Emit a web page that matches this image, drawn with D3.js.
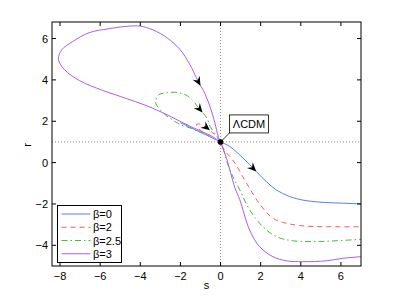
<!DOCTYPE html>
<html>
<head>
<meta charset="utf-8">
<script src="https://cdn.jsdelivr.net/npm/d3@7"></script>
<style>
  body { margin: 0; background: #fff; }
  text { font-family: "Liberation Sans", Arial, sans-serif; font-size: 11px; fill: #000; }
</style>
</head>
<body>
<svg id="chart" width="399" height="300"></svg>
<script>
const X_TICKS = [-8, -6, -4, -2, 0, 2, 4, 6];
const Y_TICKS = [-4, -2, 0, 2, 4, 6];

const LABELS = ["β=0", "β=2", "β=2.5", "β=3"];

// trajectories in the (s, r) plane
const S_B0 = [-2.0, -1.0, -0.4, 0, 0.46, 1.12, 1.78, 2.28, 2.78, 3.44, 4.26, 5.26, 6.08, 7.0];
const R_B0 = [1.93, 1.47, 1.19, 1, 0.78, 0.22, -0.43, -0.92, -1.32, -1.64, -1.84, -1.93, -1.96, -2.0];

const S_B2 = [-0.5, -0.85, -1.12, -1.2, -1.0, -0.78, -0.53, -0.25, 0, 0.13, 0.71, 1.29, 1.95, 2.61, 3.27, 4.1, 5.26, 7.0];
const R_B2 = [1.25, 1.45, 1.68, 1.84, 1.86, 1.72, 1.56, 1.3, 1, 0.7, -0.02, -0.99, -2.0, -2.69, -2.93, -3.06, -3.1, -3.1];

const S_B25 = [-0.8, -1.51, -2.02, -2.41, -2.85, -3.17, -3.24, -3.07, -2.75, -2.25, -1.76, -1.42, -1.09, -0.9, -0.68, -0.52, -0.28, 0, 0.46, 0.96, 1.45, 2.11, 2.78, 3.6, 4.59, 5.75, 7.0];
const R_B25 = [1.38, 1.67, 1.85, 2.07, 2.4, 2.75, 2.98, 3.29, 3.37, 3.40, 3.29, 3.04, 2.64, 2.42, 2.16, 1.75, 1.4, 1, -0.35, -1.32, -2.29, -3.10, -3.58, -3.78, -3.82, -3.78, -3.71];

const S_B3 = [-0.1, -0.43, -1.5, -3.4, -5.0, -5.9, -7.04, -7.78, -8.08, -7.9, -7.39, -6.56, -5.6, -4.56, -4.0, -3.37, -2.66, -2.02, -1.55, -1.2, -1.0, -0.86, -0.53, -0.28, -0.12, 0, 0.3, 0.71, 0.96, 1.45, 1.95, 2.61, 3.27, 4.1, 5.26, 6.08, 7.0];
const R_B3 = [1.05, 1.27, 1.75, 2.64, 3.2, 3.5, 3.97, 4.5, 5.0, 5.47, 5.84, 6.28, 6.47, 6.6, 6.6, 6.42, 6.03, 5.47, 4.78, 4.1, 3.72, 3.5, 2.72, 1.91, 1.27, 1, 0.2, -1.2, -1.8, -3.26, -4.07, -4.55, -4.75, -4.79, -4.75, -4.63, -4.55];

// index of the point where each arrow head sits
const ARROW_AT = [6, 6, 13, 20];

const LCDM = {s: 0, r: 1, label: "ΛCDM"};

const COLORS = ["#5a7cfa", "#fa5a5a", "#49b936", "#a95cf7"];
const DASHES = [null, "5,4", "6,3,1.5,3", null];

const MARGIN = {top: 22, right: 38, bottom: 34, left: 52};
const WIDTH = 399 - MARGIN.left - MARGIN.right;
const HEIGHT = 300 - MARGIN.top - MARGIN.bottom;

const series = [[S_B0, R_B0], [S_B2, R_B2], [S_B25, R_B25], [S_B3, R_B3]]
  .map(([s, r], i) => ({
    label: LABELS[i],
    color: COLORS[i],
    dash: DASHES[i],
    arrow: ARROW_AT[i],
    points: s.map((v, j) => ({s: v, r: r[j]}))
  }));

let x = d3.scaleLinear().domain([-8.4, 7]).range([0, WIDTH]);
let y = d3.scaleLinear().domain([-5, 6.8]).range([HEIGHT, 0]);

let svg = d3.select("#chart");
let chart = svg.append("g")
               .attr("transform", `translate(${MARGIN.left},${MARGIN.top})`);

// dotted reference lines through the ΛCDM point
chart.append("line")
     .attr("x1", x(LCDM.s)).attr("x2", x(LCDM.s))
     .attr("y1", 0).attr("y2", HEIGHT)
     .attr("stroke", "#8a8a8a").attr("stroke-dasharray", "1,2");
chart.append("line")
     .attr("x1", 0).attr("x2", WIDTH)
     .attr("y1", y(LCDM.r)).attr("y2", y(LCDM.r))
     .attr("stroke", "#8a8a8a").attr("stroke-dasharray", "1,2");

const line = d3.line()
               .x(d => x(d.s))
               .y(d => y(d.r))
               .curve(d3.curveCatmullRom.alpha(0.5));

chart.selectAll(".traj")
     .data(series)
     .enter().append("path")
     .attr("class", "traj")
     .attr("d", d => line(d.points))
     .attr("fill", "none")
     .attr("stroke", d => d.color)
     .attr("stroke-width", 1)
     .attr("stroke-dasharray", d => d.dash);

// arrow heads along each trajectory
chart.selectAll(".arrow")
     .data(series)
     .enter().append("path")
     .attr("class", "arrow")
     .attr("d", "M0,0L-9,-4L-6,0L-9,4Z")
     .attr("fill", "#000")
     .attr("transform", d => {
        let p = d.points, i = d.arrow;
        let a = p[i - 1], b = p[i + 1], c = p[i];
        let ang = Math.atan2(y(b.r) - y(a.r), x(b.s) - x(a.s)) * 180 / Math.PI;
        return `translate(${x(c.s)},${y(c.r)}) rotate(${ang})`;
     });

// ΛCDM marker and callout
const px = x(LCDM.s), py = y(LCDM.r);
chart.append("line")
     .attr("x1", px).attr("y1", py)
     .attr("x2", px + 9).attr("y2", py - 9)
     .attr("stroke", "#000").attr("stroke-width", 0.8);
chart.append("circle")
     .attr("cx", px).attr("cy", py).attr("r", 2.8)
     .attr("fill", "#000");
chart.append("rect")
     .attr("x", px + 9).attr("y", py - 27)
     .attr("width", 39).attr("height", 18)
     .attr("fill", "#fff").attr("stroke", "#000").attr("stroke-width", 0.8);
chart.append("text")
     .attr("x", px + 28.5).attr("y", py - 14)
     .attr("text-anchor", "middle")
     .text(LCDM.label);

// axes box with inward ticks
const tickLen = 4;
chart.append("rect")
     .attr("x", 0).attr("y", 0)
     .attr("width", WIDTH).attr("height", HEIGHT)
     .attr("fill", "none").attr("stroke", "#000").attr("stroke-width", 1);

const ax = chart.append("g");
ax.selectAll(".xt").data(X_TICKS).enter().append("path")
  .attr("d", d => `M${x(d)},${HEIGHT}v${-tickLen}M${x(d)},0v${tickLen}`)
  .attr("stroke", "#000");
ax.selectAll(".yt").data(Y_TICKS).enter().append("path")
  .attr("d", d => `M0,${y(d)}h${tickLen}M${WIDTH},${y(d)}h${-tickLen}`)
  .attr("stroke", "#000");

const fmt = d3.format("d");
ax.selectAll(".xl").data(X_TICKS).enter().append("text")
  .attr("x", d => x(d)).attr("y", HEIGHT + 13.5)
  .attr("text-anchor", "middle")
  .text(d => fmt(d));
ax.selectAll(".yl").data(Y_TICKS).enter().append("text")
  .attr("x", -4).attr("y", d => y(d) + 4)
  .attr("text-anchor", "end")
  .text(d => fmt(d));

chart.append("text")
     .attr("x", WIDTH / 2).attr("y", HEIGHT + 23)
     .attr("text-anchor", "middle")
     .text("s");
chart.append("text")
     .attr("transform", `translate(-21,${HEIGHT / 2 + 1}) rotate(-90)`)
     .attr("text-anchor", "middle")
     .text("r");

// legend
const legend = chart.append("g").attr("transform", "translate(5.5,183.5)");
legend.append("rect")
      .attr("width", 64).attr("height", 57)
      .attr("fill", "#fff").attr("stroke", "#000").attr("stroke-width", 1);
const items = legend.selectAll(".item").data(series).enter().append("g")
                    .attr("transform", (d, i) => `translate(0,${8.5 + i * 13.25})`);
items.append("line")
     .attr("x1", 4).attr("x2", 33)
     .attr("stroke", d => d.color)
     .attr("stroke-dasharray", d => d.dash);
items.append("text")
     .attr("x", 35.5).attr("y", 4)
     .text(d => d.label);
</script>
</body>
</html>
